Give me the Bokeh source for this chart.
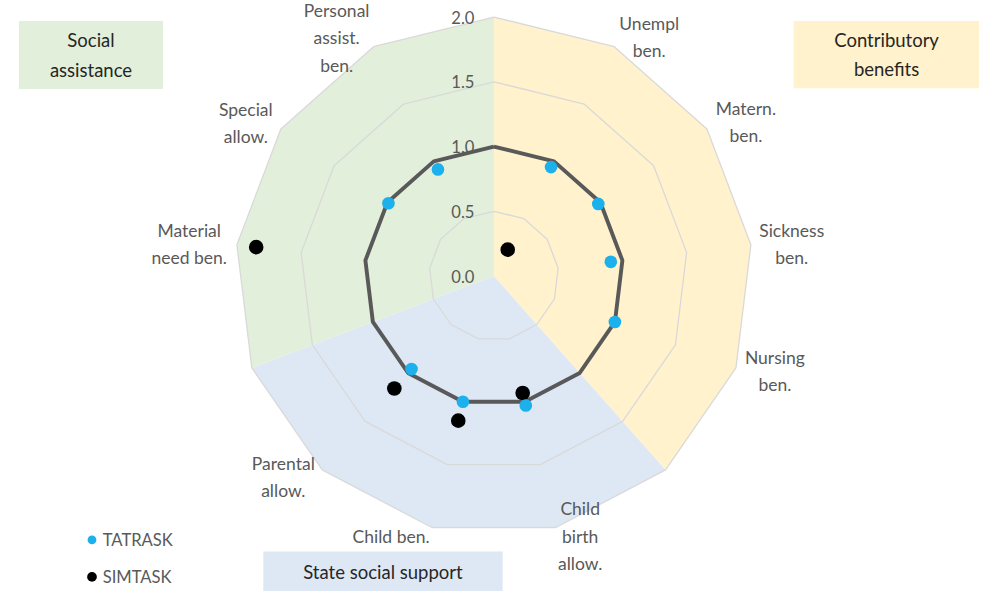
import math
from bokeh.plotting import figure
from bokeh.core.properties import value
from bokeh.embed import file_html
from bokeh.resources import INLINE

nan = float("nan")

# ---------------- data ----------------
categories = ["", "Unempl\nben.", "Matern.\nben.", "Sickness\nben.", "Nursing\nben.", "",
              "Child\nbirth\nallow.", "Child ben.", "Parental\nallow.", "",
              "Material\nneed ben.", "Special\nallow.", "Personal\nassist.\nben."]
tatrask = [nan, 0.95, 0.98, 0.91, 1.00, nan, 1.03, 1.00, 0.96, nan, nan, 0.99, 0.93]
simtask = [nan, 0.23, nan, nan, nan, nan, 0.93, 1.15, 1.16, nan, 1.85, nan, nan]
reference = [1.0] * 13
tick_values = [0.0, 0.5, 1.0, 1.5, 2.0]
tick_labels = ["0.0", "0.5", "1.0", "1.5", "2.0"]
group_names = ["Contributory\nbenefits", "State social support", "Social\nassistance"]
group_start = [0, 5, 9]
group_end = [5, 9, 13]
r_max = 2.0

# ---------------- styles / layout ----------------
group_colors = ["#fff2cc", "#dee8f5", "#e2efda"]
FONT = "Lato"
GREY = "#595959"
RW, RH = 1006, 607          # layout design space
H = 591
W = round(H * RW / RH)      # keep aspect ratio
F = H / RH                  # design px -> screen px
S = 133.0                   # design pixels per unit
CX, CY = 507.0, 283.0       # centre in design pixels


def X(px):
    return (px - CX) / S


def Y(py):
    return (CY - py) / S


def fs(px):
    return f"{px * F:.1f}px"


n = len(categories)
theta = [2 * math.pi * k / n for k in range(n)]


def polar(r, k):
    return r * math.sin(theta[k]), r * math.cos(theta[k])


p = figure(width=W, height=H, output_backend="svg", toolbar_location=None,
           x_range=(X(0), X(RW)), y_range=(Y(RH), Y(0)),
           x_axis_type=None, y_axis_type=None, min_border=0,
           outline_line_color=None)
p.grid.visible = False
p.background_fill_color = "white"

# sector fills
for g in range(len(group_names)):
    xs, ys = [0.0], [0.0]
    for k in range(group_start[g], group_end[g] + 1):
        x, y = polar(r_max, k % n)
        xs.append(x); ys.append(y)
    p.patch(xs, ys, fill_color=group_colors[g], line_color=None)

# grid rings
for v in tick_values[1:]:
    xs = [polar(v, k)[0] for k in range(n)] + [polar(v, 0)[0]]
    ys = [polar(v, k)[1] for k in range(n)] + [polar(v, 0)[1]]
    p.line(xs, ys, line_color="#d9d9d9", line_width=1.3)

# tick labels
p.text(x=[X(487)] * len(tick_values), y=tick_values, text=tick_labels,
       text_align="right", text_baseline="middle", text_color=GREY,
       text_font=value(FONT), text_font_size=fs(17))

# reference line
rx = [polar(reference[k], k)[0] for k in range(n)] + [polar(reference[0], 0)[0]]
ry = [polar(reference[k], k)[1] for k in range(n)] + [polar(reference[0], 0)[1]]
p.line(rx, ry, line_color="#595959", line_width=4 * F, line_join="round")


# points
def pts(vals):
    xs, ys = [], []
    for k, v in enumerate(vals):
        if not math.isnan(v):
            x, y = polar(v, k)
            xs.append(x); ys.append(y)
    return xs, ys


sx, sy = pts(simtask)
p.scatter(sx, sy, size=15 * F, fill_color="black", line_color=None)
tx, ty = pts(tatrask)
p.scatter(tx, ty, size=13 * F, fill_color="#1cb1ec", line_color=None)

# category labels (design-pixel offsets from the axis tip)
lab_off = {1: (36, -10), 2: (40, -7), 3: (42, -1), 4: (40, 3), 6: (25, 9),
           7: (-42, 9), 8: (-40, 7), 10: (-49, -1), 11: (-36, -6), 12: (-38, -9)}
lx, ly, lt = [], [], []
for k, name in enumerate(categories):
    if name:
        x, y = polar(r_max, k)
        ox, oy = lab_off.get(k, (0, 0))
        lx.append(x + ox / S); ly.append(y - oy / S); lt.append(name)
p.text(x=lx, y=ly, text=lt, text_align="center", text_baseline="middle",
       text_color=GREY, text_font=value(FONT), text_font_size=fs(18),
       text_line_height=1.3)

# group title boxes
boxes = [(815, 1006, 21, 90), (270, 516, 566, 607), (19, 167, 21, 91)]
for g, (l, r, t, b) in enumerate(boxes):
    p.quad(left=X(l), right=X(r), top=Y(t), bottom=Y(b),
           fill_color=group_colors[g], line_color=None)
    p.text(x=[X((l + r) / 2)], y=[Y((t + b) / 2 if g != 1 else 587)], text=[group_names[g]],
           text_align="center", text_baseline="middle", text_color="#262626",
           text_font=value(FONT), text_font_size=fs(19), text_line_height=1.35)

# legend
p.scatter([X(94)], [Y(554)], size=9 * F, fill_color="#1cb1ec", line_color=None)
p.scatter([X(94)], [Y(592)], size=10 * F, fill_color="black", line_color=None)
p.text(x=[X(105), X(105)], y=[Y(554), Y(592)], text=["TATRASK", "SIMTASK"],
       text_align="left", text_baseline="middle", text_color=GREY,
       text_font=value(FONT), text_font_size=fs(17))

open("out.html", "w").write(file_html(p, INLINE))
